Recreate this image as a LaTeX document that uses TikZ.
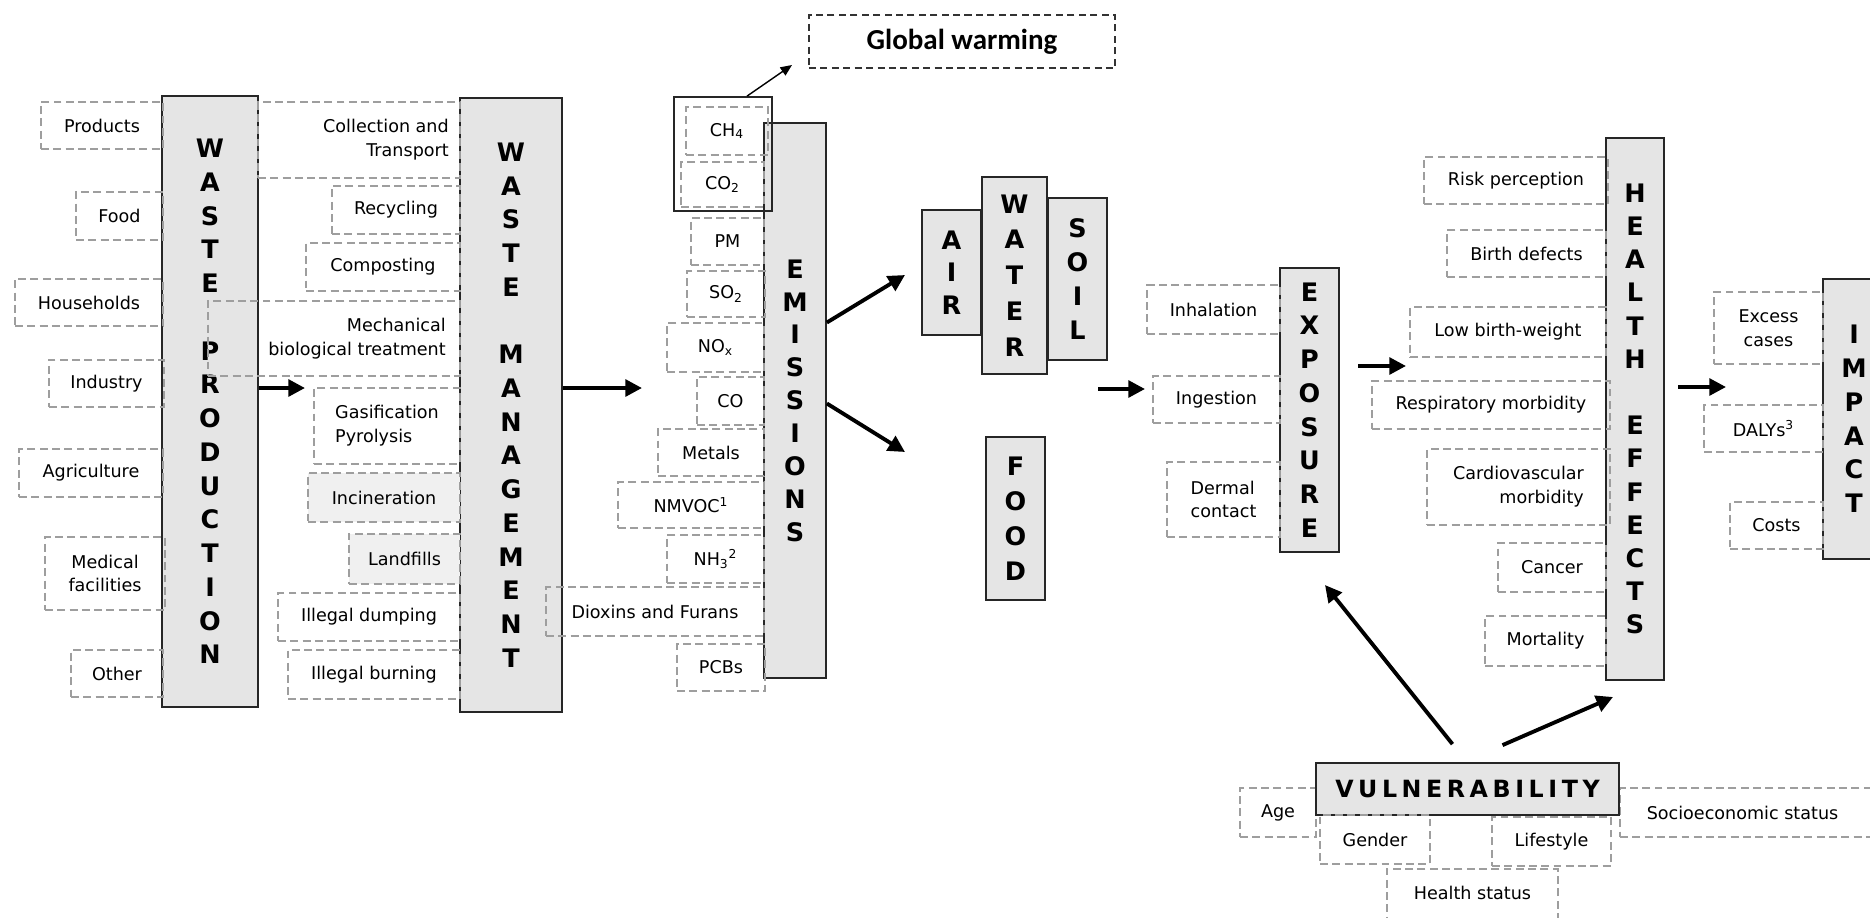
\documentclass[tikz,border=0pt]{standalone}
\usepackage{fontspec}
\setmainfont{DejaVu Sans}
\newfontfamily\gwfont{Carlito}
\usetikzlibrary{fit,calc,arrows.meta}
\definecolor{boxgray}{gray}{0.9}
\definecolor{dashgray}{gray}{0.62}
\definecolor{itemfill}{gray}{0.94}
\newcommand{\vk}{\kern2.6pt}

\begin{document}
\begin{tikzpicture}[x=0.02cm,y=-0.02cm,
  stack/.style={draw=black!85,line width=1pt,fill=boxgray,inner sep=0pt},
  item/.style={draw=dashgray,dash pattern=on 4.5pt off 2.5pt,line width=0.6pt,inner sep=0pt},
  txt/.style={inner sep=0pt,align=center,font=\fontsize{10}{13.5}\selectfont},
  letters/.style={inner sep=0pt,align=center,font=\fontsize{14.5}{#1}\selectfont\bfseries},
  letters/.default=19.2pt,
  flow/.style={line width=2.2pt,-{Triangle[length=9.5pt,width=9.5pt]}},
  thinflow/.style={line width=0.8pt,-{Triangle[length=6.5pt,width=5.5pt]}}]
\useasboundingbox (0,0) rectangle (1870,917);
\clip (0,0) rectangle (1870,917);
\fill[white] (0,0) rectangle (1870,917);

% waste production and management
\node[stack,fit={(162,96)(258,707)},label={[letters]center:W\\A\\S\\T\\E\\[19.2pt]P\\R\\O\\D\\U\\C\\T\\I\\O\\N}] (wp) {};
\node[stack,fit={(460,98)(562,712)},label={[letters]center:W\\A\\S\\T\\E\\[19.2pt]M\\A\\N\\A\\G\\E\\M\\E\\N\\T}] (wm) {};

\node[item,fit={(41,102)(163,149)},label={[txt]center:Products}] (products) {};
\node[item,fit={(76,192)(163,240)},label={[txt]center:Food}] (food) {};
\node[item,fit={(15,279)(163,326)},label={[txt]center:Households}] (households) {};
\node[item,fit={(49,360)(164,407)},label={[txt]center:Industry}] (industry) {};
\node[item,fit={(19,449)(163,497)},label={[txt]center:Agriculture}] (agriculture) {};
\node[item,fit={(45,537)(165,610)},label={[txt]center:Medical\\facilities}] (medical) {};
\node[item,fit={(71,650)(163,697)},label={[txt]center:Other}] (other) {};

\node[item,fit={(258,102)(460,178)},label={[txt,align=right,xshift=0.54cm]center:Collection and\\Transport}] (collection) {};
\node[item,fit={(332,186)(460,234)},label={[txt]center:Recycling}] (recycling) {};
\node[item,fit={(306,243)(460,291)},label={[txt]center:Composting}] (composting) {};
\node[item,fit={(208,301)(460,376)},label={[txt,align=right,xshift=0.46cm]center:Mechanical\\biological treatment}] (mbt) {};
\node[item,fit={(314,388)(460,464)},label={[txt,align=left]center:Gasification\\Pyrolysis}] (gasification) {};
\node[item,fill=itemfill,fit={(308,473)(460,522)},label={[txt]center:Incineration}] (incineration) {};
\node[item,fill=itemfill,fit={(349,534)(460,584)},label={[txt]center:Landfills}] (landfills) {};
\node[item,fit={(278,593)(460,641)},label={[txt]center:Illegal dumping}] (dumping) {};
\node[item,fit={(288,650)(460,699)},label={[txt]center:Illegal burning}] (burning) {};

% emissions
\node[stack,fit={(764,123)(826,678)},label={[letters=18.7pt]center:E\\M\\I\\S\\S\\I\\O\\N\\S}] (em) {};
\node[item,fit={(686,107)(768,155)},label={[txt]center:CH\textsubscript{4}}] (ch4) {};
\node[item,fit={(681,162)(764,207)},label={[txt]center:CO\textsubscript{2}}] (co2) {};
\node[item,fit={(691,218)(764,265)},label={[txt]center:PM}] (pm) {};
\node[item,fit={(687,271)(765,317)},label={[txt]center:SO\textsubscript{2}}] (so2) {};
\node[item,fit={(667,323)(764,372)},label={[txt]center:NO\textsubscript{x}}] (nox) {};
\node[item,fit={(697,377)(764,425)},label={[txt]center:CO}] (co) {};
\node[item,fit={(658,429)(764,476)},label={[txt]center:Metals}] (metals) {};
\node[item,fit={(618,482)(764,528)},label={[txt]center:NMVOC\textsuperscript{1}}] (nmvoc) {};
\node[item,fit={(667,535)(764,583)},label={[txt]center:NH\textsubscript{3}\textsuperscript{2}}] (nh3) {};
\node[item,fit={(546,587)(764,636)},label={[txt]center:Dioxins and Furans}] (dioxins) {};
\node[item,fit={(677,644)(765,691)},label={[txt]center:PCBs}] (pcbs) {};
\node[draw=black!85,line width=1pt,inner sep=0pt,fit={(674,97)(772,211)}] (ghg) {};

\node[draw=black!80,line width=0.8pt,dash pattern=on 4pt off 2.5pt,inner sep=0pt,fit={(809,15)(1115,68)},label={[inner sep=0pt,font=\gwfont\fontsize{16.5}{18}\selectfont\bfseries]center:Global warming}] (gw) {};

% environment
\node[stack,fit={(922,210)(981,335)},label={[letters=18.4pt]center:A\\I\\R}] (air) {};
\node[stack,fit={(1048,198)(1107,360)},label={[letters]center:S\\O\\I\\L}] (soil) {};
\node[stack,fit={(982,177)(1047,374)},label={[letters=20.4pt]center:W\\A\\T\\E\\R}] (water) {};
\node[stack,fit={(986,437)(1045,600)},label={[letters=20pt]center:F\\O\\O\\D}] (foodbox) {};

% exposure
\node[stack,fit={(1280,268)(1339,552)},label={[letters]center:E\\X\\P\\O\\S\\U\\R\\E}] (exp) {};
\node[item,fit={(1147,285)(1280,334)},label={[txt]center:Inhalation}] (inhalation) {};
\node[item,fit={(1153,376)(1280,423)},label={[txt]center:Ingestion}] (ingestion) {};
\node[item,fit={(1167,462)(1280,537)},label={[txt,align=left]center:Dermal\\contact}] (dermal) {};

% health effects
\node[stack,fit={(1606,138)(1664,680)},label={[letters=18.9pt]center:H\\E\\A\\L\\T\\H\\[18.9pt]E\\F\\F\\E\\C\\T\\S}] (he) {};
\node[item,fit={(1424,157)(1608,204)},label={[txt]center:Risk perception}] (risk) {};
\node[item,fit={(1447,230)(1606,277)},label={[txt]center:Birth defects}] (defects) {};
\node[item,fit={(1410,307)(1606,357)},label={[txt]center:Low birth-weight}] (lbw) {};
\node[item,fit={(1372,381)(1610,429)},label={[txt]center:Respiratory morbidity}] (resp) {};
\node[item,fit={(1427,449)(1610,525)},label={[txt,align=right]center:Cardiovascular\\morbidity}] (cardio) {};
\node[item,fit={(1498,543)(1606,592)},label={[txt]center:Cancer}] (cancer) {};
\node[item,fit={(1485,616)(1606,666)},label={[txt]center:Mortality}] (mortality) {};

% impact
\node[stack,fit={(1823,279)(1885,559)},label={[letters]center:I\\M\\P\\A\\C\\T}] (impact) {};
\node[item,fit={(1714,292)(1823,364)},label={[txt]center:Excess\\cases}] (excess) {};
\node[item,fit={(1704,405)(1823,452)},label={[txt]center:DALYs\textsuperscript{3}}] (dalys) {};
\node[item,fit={(1730,502)(1823,549)},label={[txt]center:Costs}] (costs) {};

% vulnerability
\node[item,fit={(1240,788)(1316,837)},label={[txt]center:Age}] (age) {};
\node[item,fit={(1620,788)(1875,837)},label={[txt,xshift=-0.1cm]center:Socioeconomic status}] (socio) {};
\node[item,fit={(1387,869)(1558,922)},label={[txt,yshift=0.05cm]center:Health status}] (status) {};
\node[stack,fit={(1316,763)(1619,815)},label={[inner sep=0pt,font=\fontsize{13.5}{16}\selectfont\bfseries]center:V\vk U\vk L\vk N\vk E\vk R\vk A\vk B\vk I\vk L\vk I\vk T\vk Y}] (vuln) {};
\node[item,fit={(1320,815)(1430,864)},label={[txt]center:Gender}] (gender) {};
\node[item,fit={(1492,817)(1611,866)},label={[txt]center:Lifestyle}] (lifestyle) {};

% arrows
\coordinate (wpout) at (305,388);
\coordinate (wmout) at (642,388);
\coordinate (gwin) at (792,65);
\coordinate (toair) at (905,275);
\coordinate (tofood) at (905,452);
\coordinate (envout) at (1098,389);
\coordinate (expin) at (1145,389);
\coordinate (expout) at (1358,366);
\coordinate (hein) at (1406,366);
\coordinate (heout) at (1678,387);
\coordinate (impin) at (1726,387);
\coordinate (toexp) at (1325,585);
\coordinate (tohe) at (1613,697);

\draw[flow] (wp.east |- wpout) -- (wpout);
\draw[flow] (wm.east |- wmout) -- (wmout);
\draw[thinflow] ($(ghg.north)+(24,0)$) -- (gwin);
\draw[flow] ($(em.east)+(0,-78)$) -- (toair);
\draw[flow] ($(em.east)+(0,3)$) -- (tofood);
\draw[flow] (envout) -- (expin);
\draw[flow] (expout) -- (hein);
\draw[flow] (heout) -- (impin);
\draw[flow] ($(vuln.north)+(-15,-18)$) -- (toexp);
\draw[flow] ($(vuln.north)+(35,-17)$) -- (tohe);
\end{tikzpicture}
\end{document}
